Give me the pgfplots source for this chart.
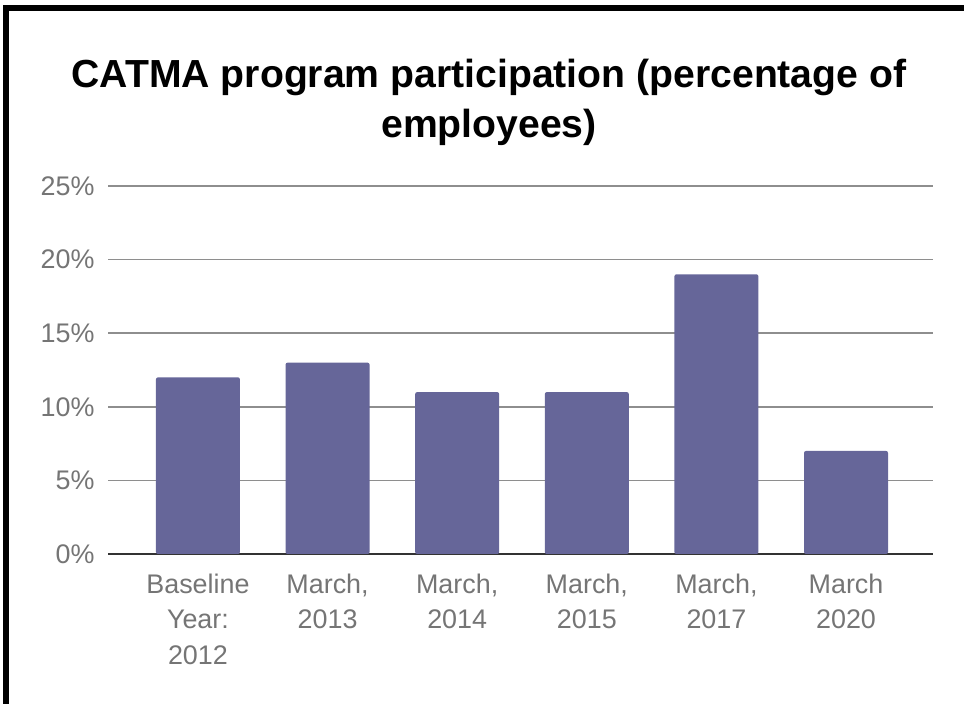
\documentclass[border=0pt]{standalone}
\usepackage{fontspec}
\setmainfont{Liberation Sans}
\usepackage{pgfplots}
\pgfplotsset{compat=1.18}
\definecolor{barc}{HTML}{666699}
\definecolor{gridc}{HTML}{8E8E8E}
\definecolor{labc}{HTML}{757575}
\begin{document}
\begin{tikzpicture}
\begin{axis}[
  scale only axis,
  width=825bp, height=368bp,
  xmin=-0.694, xmax=5.671, ymin=0, ymax=25,
  ytick={0,5,...,25},
  yticklabel={\pgfmathprintnumber{\tick}\%},
  /pgf/number format/assume math mode=true,
  xtick={0,...,5},
  xticklabels={{Baseline\\Year:\\2012},{March,\\2013},{March,\\2014},{March,\\2015},{March,\\2017},{March\\2020}},
  axis line style={draw=none},
  major tick style={draw=none},
  ymajorgrids,
  grid style={gridc, line width=1.6bp},
  extra y ticks={0},
  extra y tick labels={},
  extra y tick style={grid style={black!80, line width=1.8bp}},
  yticklabel style={font=\fontsize{27}{30}\selectfont, text=labc, anchor=east, xshift=-10bp},
  xticklabel style={font=\fontsize{27}{36}\selectfont, text=labc, align=center, anchor=north, yshift=-16bp},
]
\addplot[ybar, bar width=0.648, fill=barc, draw=none, rounded corners=2bp] coordinates {(0,12) (1,13) (2,11) (3,11) (4,19) (5,7)};
\coordinate (O) at (rel axis cs:0,0);
\end{axis}
\begin{scope}[shift={(O)}, xshift=-108bp, yshift=-150bp, x=1bp, y=1bp]
\path[use as bounding box] (0,0) rectangle (964,704);
\fill[black] (3,0) rectangle (9,699);
\fill[black] (3,699) rectangle (964,693);
\node[font=\fontsize{39.3}{50}\selectfont\bfseries, anchor=base] at (489,616) {CATMA program participation (percentage of};
\node[font=\fontsize{39.3}{50}\selectfont\bfseries, anchor=base] at (489,566) {employees)};
\end{scope}
\end{tikzpicture}
\end{document}
